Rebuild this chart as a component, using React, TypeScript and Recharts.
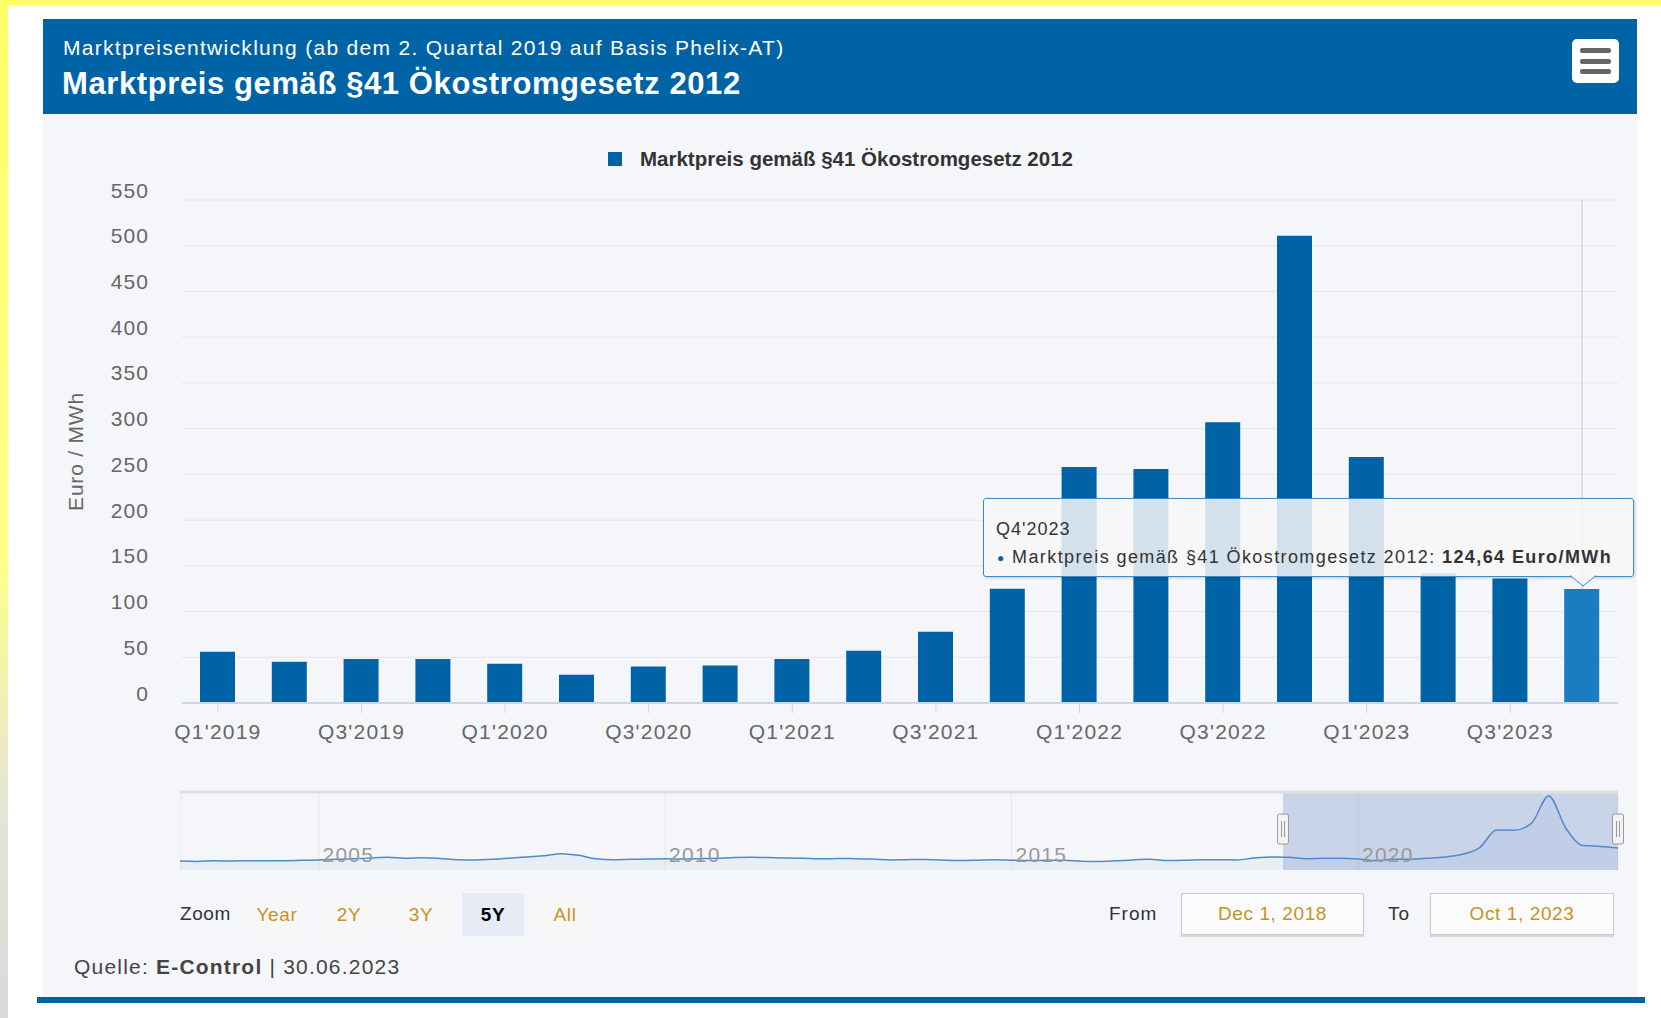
import React from 'react';
import {
  BarChart, Bar, XAxis, YAxis, CartesianGrid, Tooltip, Legend, Cell, ReferenceLine,
  ComposedChart, Area, ReferenceArea,
} from 'recharts';

// ---------- data ----------
const quarters = [
  "Q1'2019", "Q2'2019", "Q3'2019", "Q4'2019",
  "Q1'2020", "Q2'2020", "Q3'2020", "Q4'2020",
  "Q1'2021", "Q2'2021", "Q3'2021", "Q4'2021",
  "Q1'2022", "Q2'2022", "Q3'2022", "Q4'2022",
  "Q1'2023", "Q2'2023", "Q3'2023", "Q4'2023",
];
const marktpreis = [
  56, 45, 48, 48,
  43, 31, 40, 41,
  48, 57, 78, 125,
  258, 256, 307, 511,
  269, 142, 136, 124.64,
];
const yTicks = [0, 50, 100, 150, 200, 250, 300, 350, 400, 450, 500, 550];
const seriesName = 'Marktpreis gemäß §41 Ökostromgesetz 2012';
const subtitleText = 'Marktpreisentwicklung (ab dem 2. Quartal 2019 auf Basis Phelix-AT)';
const titleText = 'Marktpreis gemäß §41 Ökostromgesetz 2012';
const yAxisTitle = 'Euro / MWh';
const activeIndex = 19;

// navigator: quarterly history 2003 Q1 .. 2018 Q4, followed by the main series
const navStartYear = 2003;
const navHistory = [
  27, 25, 29, 28,
  30, 29, 30, 33,
  36, 40, 44, 50,
  55, 48, 52, 47,
  38, 36, 40, 48,
  58, 66, 82, 70,
  45, 38, 40, 42,
  44, 42, 45, 48,
  54, 56, 53, 51,
  48, 44, 46, 45,
  42, 36, 38, 39,
  35, 32, 34, 37,
  34, 31, 33, 34,
  26, 24, 29, 36,
  40, 31, 33, 37,
  38, 36, 50, 58,
];
const navTicks = [2005, 2010, 2015, 2020];
const rangeFrom = 2018 + 11 / 12; // Dec 1, 2018
const rangeTo = 2023.75; // Oct 1, 2023
const rangeFromLabel = 'Dec 1, 2018';
const rangeToLabel = 'Oct 1, 2023';
const zoomButtons = ['Year', '2Y', '3Y', '5Y', 'All'];
const selectedZoom = '5Y';
const sourceDate = '30.06.2023';

// ---------- derived tables ----------
const mainData = quarters.map((q, i) => ({ quarter: q, value: marktpreis[i] }));
const navValues = [...navHistory, ...marktpreis];
const navData = navValues.map((v, i) => ({ t: navStartYear + i / 4, v }));

// ---------- styles ----------
const FONT = '"Liberation Sans", Arial, Helvetica, sans-serif';
const BLUE = '#0063a6';
const BLUE_HOVER = '#1a7dc2';
const GOLD = '#c8921f';

const fmt = (v: number) => v.toFixed(2).replace('.', ',');

const YTick = (p: any) => (
  <text
    x={p.x}
    y={p.y - 2.5}
    textAnchor="end"
    fill="#666"
    fontSize={21}
    letterSpacing={1.1}
    fontFamily={FONT}
  >
    {p.payload.value}
  </text>
);

// navigator axis: plot bottom is at tick y; labels sit inside the plot, above the bottom edge
const NavTick = (p: any) => (
  <text
    x={p.x + 4}
    y={p.y - 8.5}
    textAnchor="start"
    fill="#999"
    fontSize={21}
    letterSpacing={1.2}
    fontFamily={FONT}
  >
    {p.payload.value}
  </text>
);

const NavHandle = (p: any) => {
  const vb = p.viewBox || {};
  const cx = vb.x;
  const cy = vb.y + vb.height / 2 - 2;
  return (
    <g>
      <rect x={cx - 5.5} y={cy - 15} width={11} height={30} rx={2} fill="#f2f2f2" stroke="#999" strokeWidth={1} />
      <line x1={cx - 1.5} y1={cy - 8} x2={cx - 1.5} y2={cy + 8} stroke="#999" strokeWidth={1} />
      <line x1={cx + 1.5} y1={cy - 8} x2={cx + 1.5} y2={cy + 8} stroke="#999" strokeWidth={1} />
    </g>
  );
};

const LegendContent = () => (
  <div style={{ display: 'flex', alignItems: 'center', fontFamily: FONT, whiteSpace: 'nowrap' }}>
    <span style={{ display: 'inline-block', width: 14, height: 14, background: BLUE, marginRight: 18 }} />
    <span style={{ fontSize: 20.5, fontWeight: 'bold', color: '#333', lineHeight: '24px', letterSpacing: 0 }}>
      {seriesName}
    </span>
  </div>
);

const TooltipBox = (props: any) => {
  const { payload, label } = props;
  const q = label ?? quarters[activeIndex];
  const v = payload && payload.length ? Number(payload[0].value) : marktpreis[activeIndex];
  return (
    <div
      style={{
        position: 'relative',
        width: 649,
        height: 77,
        background: 'rgba(247,247,247,0.85)',
        border: '1px solid #3d8ac6',
        borderRadius: 3,
        fontFamily: FONT,
        boxShadow: '1px 1px 3px rgba(0,0,0,0.18)',
        whiteSpace: 'nowrap',
      }}
    >
      <div style={{ position: 'absolute', left: 12, top: 19, fontSize: 18, letterSpacing: 1, color: '#333', lineHeight: '22px' }}>
        {q}
      </div>
      <div style={{ position: 'absolute', left: 13, top: 47, fontSize: 18, letterSpacing: 1.4, color: '#333', lineHeight: '22px' }}>
        <span style={{ color: BLUE, fontSize: 12, verticalAlign: 'middle' }}>●</span> {seriesName}:{' '}
        <b>{fmt(v)} Euro/MWh</b>
      </div>
      <svg style={{ position: 'absolute', left: 586, top: 76, overflow: 'visible' }} width={26} height={14}>
        <polygon points="0,0 13,11 26,0" fill="#f5f5f5" />
        <polyline points="0,0.5 13,11 26,0.5" fill="none" stroke="#3d8ac6" strokeWidth={1} />
      </svg>
    </div>
  );
};

function MainChart() {
  return (
    <BarChart
      width={1594}
      height={640}
      data={mainData}
      margin={{ top: 86, right: 19, left: 0, bottom: 21 }}
    >
      <CartesianGrid vertical={false} stroke="#e6e6e6" />
      <XAxis
        dataKey="quarter"
        interval={1}
        height={30}
        tickSize={10}
        tickMargin={11}
        axisLine={{ stroke: '#ccd6eb', strokeWidth: 2 }}
        tickLine={{ stroke: '#ccd6eb' }}
        tick={{ fill: '#666', fontSize: 21, fontFamily: FONT, letterSpacing: 1.2 } as any}
      />
      <YAxis
        domain={[0, 550]}
        ticks={yTicks}
        width={139}
        axisLine={false}
        tickLine={false}
        tickSize={0}
        tickMargin={33}
        tick={<YTick />}
        label={{
          value: yAxisTitle,
          angle: -90,
          position: 'center',
          dx: -36.5,
          fill: '#666',
          fontSize: 21,
          fontFamily: FONT,
          letterSpacing: 0.8,
        } as any}
      />
      <ReferenceLine
        segment={[
          { x: quarters[activeIndex], y: 550 },
          { x: quarters[activeIndex], y: marktpreis[activeIndex] },
        ]}
        stroke="#cccccc"
        strokeWidth={1}
      />
      <Legend
        verticalAlign="middle"
        align="center"
        layout="horizontal"
        wrapperStyle={{ top: 33, left: 565, width: 'auto' }}
        content={<LegendContent />}
      />
      <Tooltip
        defaultIndex={activeIndex}
        active={true}
        cursor={false}
        isAnimationActive={false}
        position={{ x: 940, y: 384 }}
        content={<TooltipBox />}
        wrapperStyle={{ zIndex: 5, outline: 'none' }}
      />
      <Bar dataKey="value" name={seriesName} barSize={35} isAnimationActive={false}>
        {mainData.map((d, i) => (
          <Cell key={d.quarter} fill={i === activeIndex ? BLUE_HOVER : BLUE} />
        ))}
      </Bar>
    </BarChart>
  );
}

function Navigator() {
  return (
    <ComposedChart
      width={1448}
      height={101}
      data={navData}
      margin={{ top: 3, right: 10, left: 0, bottom: 0 }}
    >
      <CartesianGrid horizontal={false} stroke="#e6e6e6" />
      <XAxis
        type="number"
        dataKey="t"
        domain={[navStartYear, rangeTo]}
        ticks={navTicks}
        height={20}
        axisLine={false}
        tickLine={false}
        tickSize={0}
        tickMargin={0}
        tick={<NavTick />}
        allowDataOverflow
      />
      <YAxis hide domain={[-39, 540]} allowDataOverflow />
      <Area
        type="monotone"
        dataKey="v"
        stroke="#4b8ccc"
        strokeWidth={1.5}
        fill="#4b8ccc"
        fillOpacity={0.07}
        baseValue={-39}
        dot={false}
        activeDot={false}
        isAnimationActive={false}
      />
      <ReferenceArea x1={rangeFrom} x2={rangeTo} fill="#6685c2" fillOpacity={0.3} stroke="none" />
      <ReferenceLine y={540} stroke="#dedede" strokeWidth={3} />
      <ReferenceLine x={rangeFrom} stroke="none" label={(p: any) => <NavHandle {...p} />} />
      <ReferenceLine x={rangeTo} stroke="none" label={(p: any) => <NavHandle {...p} />} />
    </ComposedChart>
  );
}

export default function App() {
  return (
    <div
      style={{
        position: 'absolute',
        left: 0,
        top: 0,
        width: 1661,
        height: 1018,
        background: '#fff',
        overflow: 'hidden',
        fontFamily: FONT,
      }}
    >
      {/* page edges */}
      <div style={{ position: 'absolute', left: 0, top: 0, width: 1661, height: 5, background: '#ffff66' }} />
      <div
        style={{
          position: 'absolute', left: 0, top: 0, width: 8, height: 1018,
          background: 'linear-gradient(#ffff66 0%, #ffff88 55%, #e4e4d8 80%, #d9d9d9 100%)',
        }}
      />

      {/* card body */}
      <div style={{ position: 'absolute', left: 43, top: 114, width: 1594, height: 883, background: '#f5f6fa' }} />

      {/* header */}
      <div style={{ position: 'absolute', left: 43, top: 19, width: 1594, height: 95, background: BLUE }}>
        <div
          style={{
            position: 'absolute', left: 20, top: 16, color: '#fff', fontSize: 21, letterSpacing: 1.3,
            lineHeight: '26px', whiteSpace: 'nowrap',
          }}
        >
          {subtitleText}
        </div>
        <div
          style={{
            position: 'absolute', left: 19, top: 47, color: '#fff', fontSize: 31, fontWeight: 'bold',
            letterSpacing: 0.6, lineHeight: '36px', whiteSpace: 'nowrap',
          }}
        >
          {titleText}
        </div>
        <div
          style={{
            position: 'absolute', left: 1529, top: 20, width: 47, height: 44, background: '#fff', borderRadius: 5,
          }}
        >
          {[9, 20, 30].map((t) => (
            <div
              key={t}
              style={{ position: 'absolute', left: 8, top: t, width: 31, height: 4.5, borderRadius: 2, background: '#666' }}
            />
          ))}
        </div>
      </div>

      {/* main chart */}
      <div style={{ position: 'absolute', left: 43, top: 114 }}>
        <MainChart />
      </div>

      {/* navigator */}
      <div style={{ position: 'absolute', left: 180, top: 789 }}>
        <Navigator />
      </div>

      {/* range selector */}
      <div
        style={{
          position: 'absolute', left: 180, top: 902, fontSize: 19, letterSpacing: 0.6, color: '#333',
          lineHeight: '24px', whiteSpace: 'nowrap',
        }}
      >
        Zoom
      </div>
      <div style={{ position: 'absolute', left: 246, top: 893, display: 'flex' }}>
        {zoomButtons.map((b) => {
          const sel = b === selectedZoom;
          return (
            <div
              key={b}
              style={{
                width: 62, height: 43, marginRight: 10, borderRadius: 2,
                background: sel ? '#e6ebf5' : '#f7f7f7',
                color: sel ? '#000' : GOLD,
                fontWeight: sel ? 'bold' : 'normal',
                fontSize: 19, letterSpacing: 0.6, lineHeight: '43px', textAlign: 'center',
              }}
            >
              {b}
            </div>
          );
        })}
      </div>

      <div
        style={{
          position: 'absolute', left: 1109, top: 902, fontSize: 19, letterSpacing: 1, color: '#333',
          lineHeight: '24px',
        }}
      >
        From
      </div>
      <div
        style={{
          position: 'absolute', left: 1181, top: 893, width: 181, height: 40, border: '1px solid #cccccc',
          background: '#fbfbfb', boxShadow: '0 2px 1px rgba(0,0,0,0.12)', color: GOLD, fontSize: 19,
          letterSpacing: 0.6, lineHeight: '40px', textAlign: 'center', whiteSpace: 'nowrap',
        }}
      >
        {rangeFromLabel}
      </div>
      <div
        style={{
          position: 'absolute', left: 1388, top: 902, fontSize: 19, letterSpacing: 1, color: '#333',
          lineHeight: '24px',
        }}
      >
        To
      </div>
      <div
        style={{
          position: 'absolute', left: 1430, top: 893, width: 182, height: 40, border: '1px solid #cccccc',
          background: '#fbfbfb', boxShadow: '0 2px 1px rgba(0,0,0,0.12)', color: GOLD, fontSize: 19,
          letterSpacing: 0.6, lineHeight: '40px', textAlign: 'center', whiteSpace: 'nowrap',
        }}
      >
        {rangeToLabel}
      </div>

      {/* source */}
      <div
        style={{
          position: 'absolute', left: 74, top: 954, fontSize: 21, letterSpacing: 1.2, color: '#444',
          lineHeight: '26px', whiteSpace: 'nowrap',
        }}
      >
        Quelle: <b>E-Control</b> | {sourceDate}
      </div>

      {/* bottom rule */}
      <div style={{ position: 'absolute', left: 37, top: 997, width: 1608, height: 6, background: BLUE }} />
    </div>
  );
}
